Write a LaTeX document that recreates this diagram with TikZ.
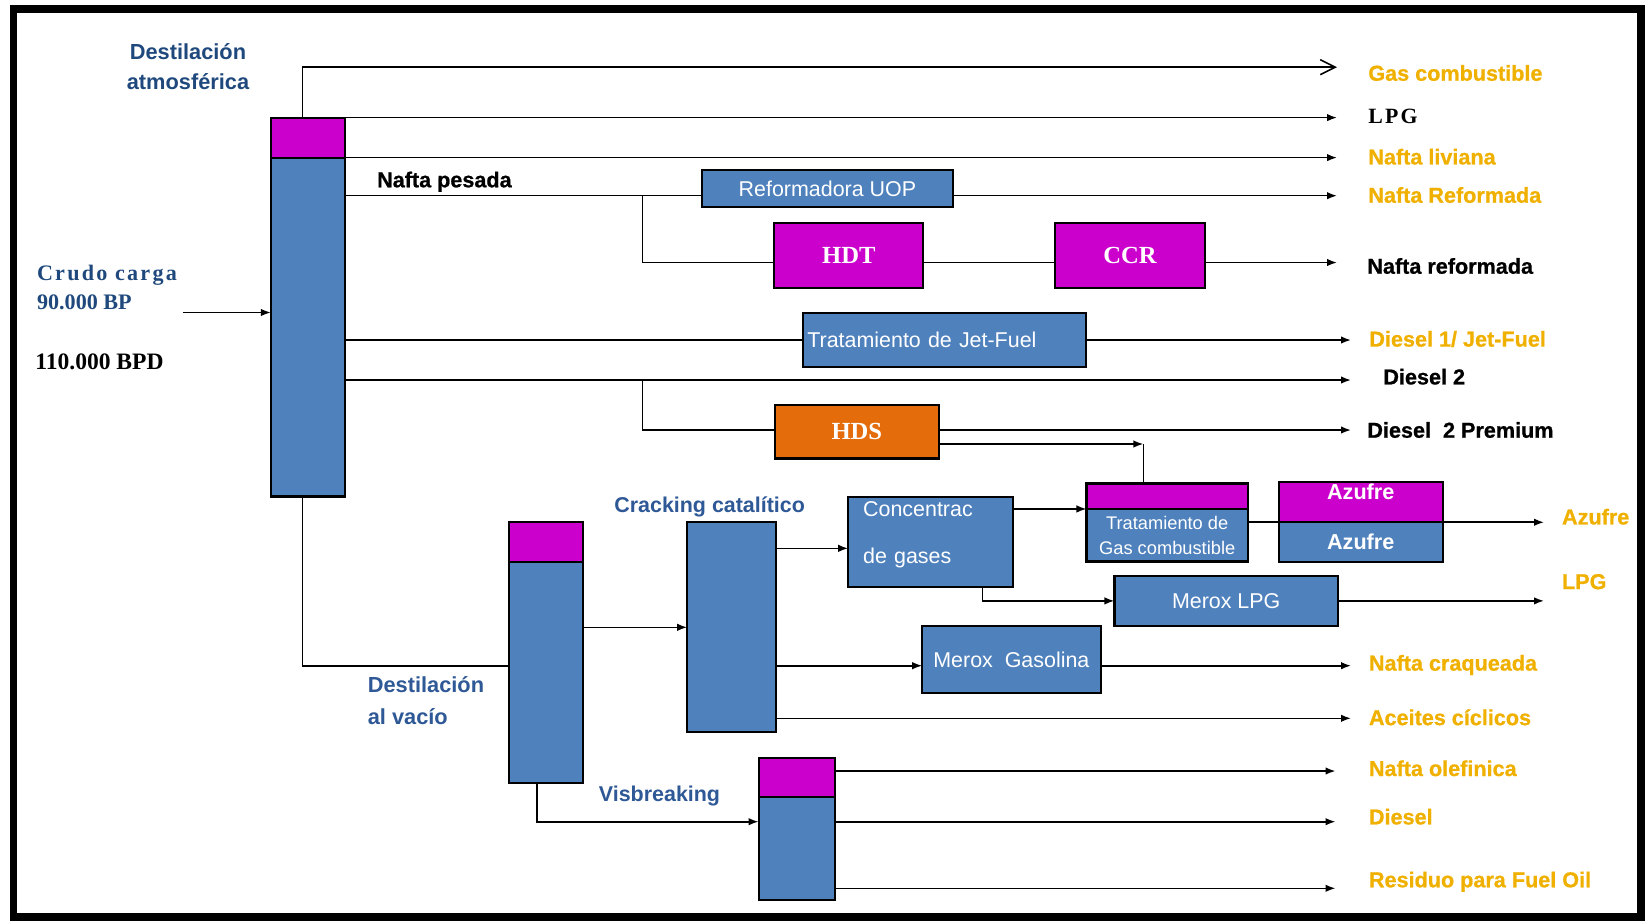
\documentclass[tikz,border=0pt]{standalone}
\usepackage{fontspec}
\setmainfont{Liberation Serif}
\setsansfont{Liberation Sans}
\usepackage{xcolor}
\definecolor{boxblue}{RGB}{79, 129, 189}
\definecolor{boxmag}{RGB}{204,  0, 204}
\definecolor{hdsorange}{RGB}{228, 108, 10}
\definecolor{gold}{RGB}{240, 176,  0}
\definecolor{navy}{RGB}{31,  73, 125}
\definecolor{midblue}{RGB}{46,  88, 150}
\usetikzlibrary{arrows.meta, positioning, calc}
\tikzset{
  coltop/.style={draw=black, fill=boxmag, line width=1.2pt, outer sep=0pt,
    inner sep=0pt, minimum width=1.48cm, minimum height=0.8cm},
  colbody/.style={draw=black, fill=boxblue, line width=1.2pt, outer sep=0pt,
    inner sep=0pt, minimum width=1.48cm},
  unitbox/.style={draw=black, fill=boxblue, line width=1.2pt, outer sep=0pt,
    inner sep=2pt, text=white, font=\sffamily\fontsize{12.2}{14}\selectfont},
  serifbox/.style={draw=black, fill=boxmag, line width=1.2pt, outer sep=0pt,
    minimum width=2.98cm, minimum height=1.29cm, text=white,
    font=\rmfamily\bfseries\fontsize{14}{16}\selectfont},
  outlabel/.style={anchor=west, inner sep=0pt, text=gold,
    font=\sffamily\bfseries\fontsize{12.3}{14}\selectfont\addfontfeature{FakeBold=0.8}},
  blacklabel/.style={outlabel, text=black},
  unitlabel/.style={anchor=west, inner sep=0pt, align=left, text=midblue,
    font=\sffamily\bfseries\fontsize{12.2}{18}\selectfont},
  flow/.style={-{Latex[length=0.2cm,width=0.15cm]}, line width=0.9pt},
  openflow/.style={-{Straight Barb[length=0.3cm,width=0.3cm]}, line width=0.9pt},
  pipe/.style={line width=0.9pt}
}

\begin{document}
\begin{tikzpicture}[x=0.02cm, y=-0.02cm]
  \useasboundingbox (0,0) rectangle (1647,920);
  \draw[line width=0.16cm] (13.5,9) rectangle (1641,916.5);

  % levels of the streams
  \coordinate (xAtm) at (302.5,0);
  \coordinate (xBr) at (642.5,0);
  \coordinate (xVac) at (537,0);
  \coordinate (endA) at (1337,0);
  \coordinate (endB) at (1351,0);
  \coordinate (endC) at (1544,0);
  \coordinate (endD) at (1335.5,0);
  \coordinate (yGasC) at (0,67.2);
  \coordinate (yPes) at (0,195.7);
  \coordinate (yHdt) at (0,262.5);
  \coordinate (yD2) at (0,380);
  \coordinate (yHds) at (0,430);
  \coordinate (yVac) at (0,665.7);
  \coordinate (yConc) at (0,548.3);
  \coordinate (yMgas) at (0,665.7);
  \coordinate (yAce) at (0,718.3);
  \coordinate (yOlef) at (0,771);
  \coordinate (yVis) at (0,821.7);
  \coordinate (yRes) at (0,888.3);
  \coordinate (hdsTrat) at (1143.3,444);
  \coordinate (crude) at (182.7,312.5);

  % columns
  \node[coltop] (atmTop) at (307.8,137.6) {};
  \node[colbody, minimum height=6.78cm, below=0pt of atmTop] (atmCol) {};
  \node[coltop] (vacTop) at (545.8,542) {};
  \node[colbody, minimum height=4.42cm, below=0pt of vacTop] (vacCol) {};
  \node[colbody, minimum width=1.77cm, minimum height=4.2cm] (fcc) at (731.4,627.3) {};
  \node[coltop, minimum width=1.52cm, minimum height=0.78cm] (visTop) at (796.6,777.2) {};
  \node[colbody, minimum width=1.52cm, minimum height=2.07cm, below=0pt of visTop] (visCol) {};

  % units
  \node[unitbox, minimum width=5.03cm, minimum height=0.74cm] (reform) at (827.4,188.8) {Reformadora UOP};
  \node[serifbox] (hdt) at (848.8,255.5) {HDT};
  \node[serifbox, minimum width=3.0cm] (ccr) at (1130,255.5) {CCR};
  \node[unitbox, minimum width=5.66cm, minimum height=1.07cm, text width=5.5cm, align=left] (jet)
    at (944.8,340) {Tratamiento de Jet-Fuel};
  \node[serifbox, fill=hdsorange, minimum width=3.29cm, minimum height=1.07cm] (hds) at (856.8,431.7) {HDS};
  \node[unitbox, minimum width=3.29cm, minimum height=1.8cm, inner xsep=0.3cm, text width=2.69cm,
    align=left] (conc) at (930.4,542.3) {Concentrac\\[13pt]de gases\\[-3pt]\mbox{}};
  \node[coltop, minimum width=3.23cm, minimum height=0.51cm] (tratTop) at (1167.2,496.2) {};
  \node[unitbox, minimum width=3.23cm, minimum height=1.05cm, inner sep=0pt, align=center,
    font=\sffamily\fontsize{10.4}{14.2}\selectfont, below=0pt of tratTop] (trat)
    {Tratamiento de\\Gas combustible};
  \node[coltop, minimum width=3.28cm, minimum height=0.81cm, text=white, text height=0.31cm,
    text depth=0.4cm, font=\sffamily\bfseries\fontsize{12.3}{14}\selectfont] (azuTop)
    at (1360.7,502) {Azufre};
  \node[unitbox, minimum width=3.28cm, minimum height=0.79cm, font=\sffamily\bfseries\fontsize{12.3}{14}\selectfont,
    below=0pt of azuTop] (azu) {Azufre};
  \node[unitbox, minimum width=4.47cm, minimum height=1.01cm] (mlpg) at (1226.2,600.9) {Merox LPG};
  \node[unitbox, minimum width=3.57cm, minimum height=1.33cm] (mgas) at (1011.4,659.4) {Merox\ \ Gasolina};

  % atmospheric distillation
  \draw[flow] (crude) -- (atmCol.west |- crude);
  \draw[openflow] (atmTop.north -| xAtm) |- (endA |- yGasC);
  \draw[flow] (atmTop.north east) -- (atmTop.north east -| endA);
  \draw[flow] (atmCol.north east) -- (atmCol.north east -| endA);
  \draw[pipe] (atmCol.east |- yPes) -- (reform.west |- yPes);
  \draw[flow] (reform.east |- yPes) -- (endA |- yPes);
  \draw[pipe] (xBr |- yPes) |- (hdt.west |- yHdt);
  \draw[pipe] (hdt.east |- yHdt) -- (ccr.west |- yHdt);
  \draw[flow] (ccr.east |- yHdt) -- (endA |- yHdt);
  \draw[pipe] (atmCol.east |- jet.west) -- (jet.west);
  \draw[flow] (jet.east) -- (endB |- jet.east);
  \draw[flow] (atmCol.east |- yD2) -- (endB |- yD2);
  \draw[pipe] (xBr |- yD2) |- (hds.west |- yHds);
  \draw[flow] (hds.east |- yHds) -- (endB |- yHds);
  \draw[flow] (hds.east |- hdsTrat) -- (hdsTrat);
  \draw[pipe] (hdsTrat) -- (tratTop.north -| hdsTrat);

  % vacuum, cracking, visbreaking
  \draw[pipe] (atmCol.south -| xAtm) |- (vacCol.west |- yVac);
  \draw[flow] (vacCol.east |- fcc.west) -- (fcc.west);
  \draw[flow] (vacCol.south -| xVac) |- (visCol.west |- yVis);
  \draw[flow] (fcc.east |- yConc) -- (conc.west |- yConc);
  \draw[flow] (conc.east |- trat.north) -- (trat.north west);
  \draw[pipe] (trat.east |- azu.north) -- (azu.north west);
  \draw[flow] (azu.north east) -- (endC |- azu.north);
  \draw[flow] ($(conc.south)+(52,0)$) |- (mlpg.west);
  \draw[flow] (mlpg.east) -- (endC |- mlpg.east);
  \draw[flow] (fcc.east |- yMgas) -- (mgas.west |- yMgas);
  \draw[flow] (mgas.east |- yMgas) -- (endB |- yMgas);
  \draw[flow] (fcc.east |- yAce) -- (endB |- yAce);
  \draw[flow] (visTop.east |- yOlef) -- (endD |- yOlef);
  \draw[flow] (visCol.east |- yVis) -- (endD |- yVis);
  \draw[flow] (visCol.east |- yRes) -- (endD |- yRes);

  % unit names
  \node[unitlabel, anchor=center, align=center, text=navy,
    font=\sffamily\bfseries\fontsize{12.4}{17}\selectfont] (lAtm) at (188,66.7) {Destilación\\atmosférica};
  \node[unitlabel, font=\sffamily\bfseries\fontsize{12.4}{18}\selectfont] (lVac) at (367.5,700.8) {Destilación\\al vacío};
  \node[unitlabel] (lFcc) at (614,506.7) {Cracking catalítico};
  \node[unitlabel] (lVis) at (598.6,796) {Visbreaking};
  \node[blacklabel] (lPes) at (376.8,181.7) {Nafta pesada};
  \node[anchor=west, inner sep=0pt, align=left, text=navy,
    font=\rmfamily\bfseries\fontsize{12.6}{16.4}\selectfont] (lCrudo) at (36.7,287.2)
    {{\addfontfeature{LetterSpace=10}Crudo carga}\\90.000 BP};
  \node[anchor=west, inner sep=0pt, font=\rmfamily\bfseries\fontsize{13.4}{16}\selectfont] (lBpd)
    at (35,361.7) {110.000 BPD};

  % products
  \node[outlabel] (pGas) at (1368,73) {Gas combustible};
  \node[blacklabel, font=\rmfamily\bfseries\fontsize{12.4}{14}\selectfont\addfontfeature{LetterSpace=10}]
    (pLpg) at (1368,116) {LPG};
  \node[outlabel] (pLiv) at (1368,156.7) {Nafta liviana};
  \node[outlabel] (pRef) at (1368,195) {Nafta Reformada};
  \node[blacklabel] (pRef2) at (1367,266) {Nafta reformada};
  \node[outlabel] (pJet) at (1369,339) {Diesel 1/ Jet-Fuel};
  \node[blacklabel] (pD2) at (1383,376.7) {Diesel 2};
  \node[blacklabel] (pD2p) at (1367,430) {Diesel\ \ 2 Premium};
  \node[outlabel] (pAzu) at (1561.7,516.7) {Azufre};
  \node[outlabel] (pLpg2) at (1561.7,581.7) {LPG};
  \node[outlabel] (pCraq) at (1368.6,665) {Nafta craqueada};
  \node[outlabel] (pAce) at (1368.6,717.3) {Aceites cíclicos};
  \node[outlabel] (pOlef) at (1368.6,768.3) {Nafta olefinica};
  \node[outlabel] (pDies) at (1368.6,816.7) {Diesel};
  \node[outlabel] (pRes) at (1368.6,881.7) {Residuo para Fuel Oil};
\end{tikzpicture}
\end{document}
